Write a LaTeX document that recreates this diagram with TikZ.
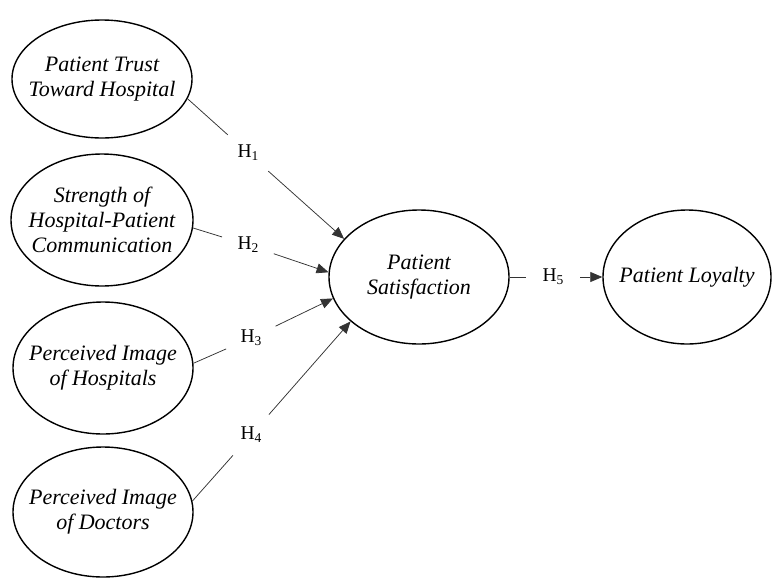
\documentclass[tikz,border=0pt]{standalone}
\usepackage{fontspec}
\setmainfont{Liberation Serif}
\usetikzlibrary{shapes.geometric,arrows.meta}
\newcommand{\hyplabel}[1]{H\raisebox{-3pt}{\fontsize{13.5}{14}\selectfont #1}}
\begin{document}
\begin{tikzpicture}[x=1pt,y=-1pt,
  latent/.style={ellipse, draw, line width=1.4pt, inner sep=0pt},
  vtext/.style={font=\fontsize{22}{25}\selectfont\itshape, align=center, inner sep=0pt},
  hyp/.style={circle, minimum size=54pt, inner sep=0pt, font=\fontsize{19.5}{22}\selectfont},
  conn/.style={line width=0.75pt, draw=black!80},
  arr/.style={-{Triangle[length=12pt,width=10pt]}}
]
\useasboundingbox (0,0) rectangle (773,579);

\node[latent, minimum width=180pt, minimum height=118pt,
  label={[vtext]center:Patient Trust\\Toward Hospital}] (e1) at (102,79) {};
\node[latent, minimum width=182pt, minimum height=132pt,
  label={[vtext]center:Strength of\\Hospital-Patient\\Communication}] (e2) at (102,220) {};
\node[latent, minimum width=180pt, minimum height=132pt,
  label={[vtext]center:Perceived Image\\of Hospitals}] (e3) at (103,368) {};
\node[latent, minimum width=180pt, minimum height=130pt,
  label={[vtext]center:Perceived Image\\of Doctors}] (e4) at (103,512) {};
\node[latent, minimum width=180pt, minimum height=134pt,
  label={[vtext]center:Patient\\Satisfaction}] (ps) at (419,277) {};
\node[latent, minimum width=168pt, minimum height=134pt,
  label={[vtext]center:Patient Loyalty}] (pl) at (687,277) {};

\node[hyp] (h1) at (248,153) {\hyplabel{1}};
\node[hyp] (h2) at (248,245) {\hyplabel{2}};
\node[hyp] (h3) at (251,338) {\hyplabel{3}};
\node[hyp] (h4) at (251,435) {\hyplabel{4}};
\node[hyp] (h5) at (553,277) {\hyplabel{5}};

\draw[conn] (e1.-13) -- (h1);
\draw[conn,arr] (h1) -- (ps.153);
\draw[conn] (e2.-5) -- (h2);
\draw[conn,arr] (h2) -- (ps.177);
\draw[conn] (e3.3) -- (h3);
\draw[conn,arr] (h3) -- (ps.194);
\draw[conn] (e4.7) -- (h4);
\draw[conn,arr] (h4) -- (ps.213);
\draw[conn] (ps.east) -- (h5);
\draw[conn,arr] (h5) -- (pl.west);
\end{tikzpicture}
\end{document}
